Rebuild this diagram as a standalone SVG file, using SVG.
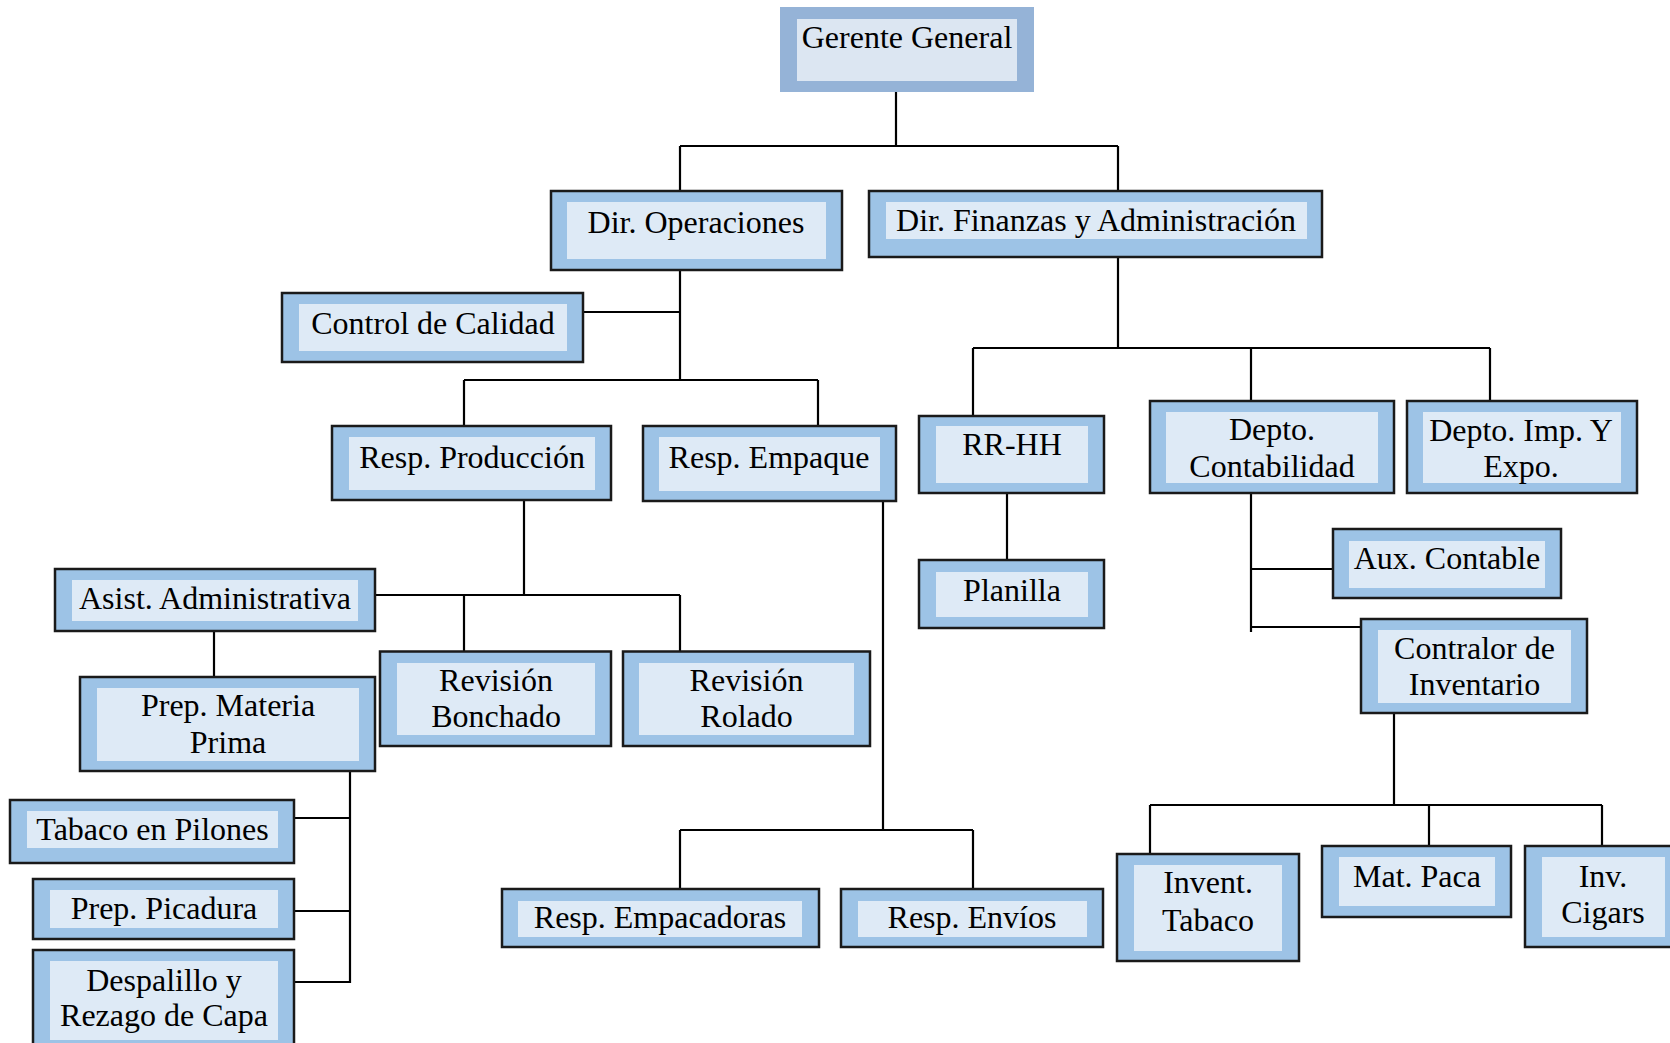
<svg xmlns="http://www.w3.org/2000/svg" width="1670" height="1043" viewBox="0 0 1670 1043">
<style>
.o{fill:#9DC3E6;stroke:#1a1a1a;stroke-width:2.5}
.i{fill:#DEEAF6}
.go{fill:#95B3D7}
.gi{fill:#DCE6F2}
text{font-family:"Liberation Serif","Times New Roman",serif;font-size:32px;fill:#000;text-anchor:middle}
.c{fill:none;stroke:#000;stroke-width:2.2}
</style>
<rect width="1670" height="1043" fill="#fff"/>
<g id="connectors" class="c">
<path d="M896,92V146M680,146H1118M680,146V191M1118,146V191"/>
<path d="M680,270V380M583,312H680M464,380H818M464,380V426M818,380V426"/>
<path d="M1118,257V348M973,348H1490M973,348V416M1251,348V401M1490,348V401"/>
<path d="M1007,491V560"/>
<path d="M1251,493V632M1251,569H1333M1251,627H1361"/>
<path d="M1394,713V805M1150,805H1602M1150,805V854M1429,805V846M1602,805V846"/>
<path d="M524,500V595M375,595H680M464,595V651M680,595V651"/>
<path d="M214,631V677"/>
<path d="M350,771V983M294,818H350M294,911H350M294,982H350"/>
<path d="M883,501V830M680,830H973M680,830V889M973,830V889"/>
</g>
<g id="gerente-general"><rect class="go" x="780" y="7" width="254" height="85"/><rect class="gi" x="797" y="19" width="220" height="62"/><text x="907" y="48">Gerente General</text></g>
<g id="dir-operaciones"><rect class="o" x="551" y="191" width="291" height="79"/><rect class="i" x="567" y="202" width="259" height="57"/><text x="696" y="233">Dir. Operaciones</text></g>
<g id="dir-finanzas"><rect class="o" x="869" y="191" width="453" height="66"/><rect class="i" x="886" y="202" width="421" height="37"/><text x="1096" y="231">Dir. Finanzas y Administración</text></g>
<g id="control-calidad"><rect class="o" x="282" y="293" width="301" height="69"/><rect class="i" x="299" y="304" width="268" height="47"/><text x="433" y="334">Control de Calidad</text></g>
<g id="resp-produccion"><rect class="o" x="332" y="426" width="279" height="74"/><rect class="i" x="349" y="437" width="246" height="53"/><text x="472" y="468">Resp. Producción</text></g>
<g id="resp-empaque"><rect class="o" x="643" y="426" width="253" height="75"/><rect class="i" x="659" y="437" width="221" height="54"/><text x="769" y="468">Resp. Empaque</text></g>
<g id="rr-hh"><rect class="o" x="919" y="416" width="185" height="77"/><rect class="i" x="936" y="426" width="152" height="57"/><text x="1012" y="455">RR-HH</text></g>
<g id="depto-contabilidad"><rect class="o" x="1150" y="401" width="244" height="92"/><rect class="i" x="1166" y="412" width="212" height="71"/><text x="1272" y="440">Depto.</text><text x="1272" y="477">Contabilidad</text></g>
<g id="depto-imp-expo"><rect class="o" x="1407" y="401" width="230" height="92"/><rect class="i" x="1423" y="412" width="198" height="71"/><text x="1521" y="441">Depto. Imp. Y</text><text x="1521" y="477">Expo.</text></g>
<g id="asist-administrativa"><rect class="o" x="55" y="569" width="320" height="62"/><rect class="i" x="72" y="580" width="286" height="41"/><text x="215" y="609">Asist. Administrativa</text></g>
<g id="prep-materia-prima"><rect class="o" x="80" y="677" width="295" height="94"/><rect class="i" x="97" y="688" width="262" height="73"/><text x="228" y="716">Prep. Materia</text><text x="228" y="753">Prima</text></g>
<g id="revision-bonchado"><rect class="o" x="380" y="651.5" width="231" height="94.5"/><rect class="i" x="397" y="663" width="198" height="72"/><text x="496" y="691">Revisión</text><text x="496" y="727">Bonchado</text></g>
<g id="revision-rolado"><rect class="o" x="623" y="651.5" width="247" height="94.5"/><rect class="i" x="639" y="663" width="215" height="72"/><text x="746.5" y="691">Revisión</text><text x="746.5" y="727">Rolado</text></g>
<g id="planilla"><rect class="o" x="919" y="560" width="185" height="68"/><rect class="i" x="936" y="572" width="152" height="45"/><text x="1012" y="601">Planilla</text></g>
<g id="aux-contable"><rect class="o" x="1333" y="529" width="228" height="69"/><rect class="i" x="1349" y="541" width="196" height="47"/><text x="1447" y="569">Aux. Contable</text></g>
<g id="contralor-inventario"><rect class="o" x="1361" y="619" width="226" height="94"/><rect class="i" x="1378" y="630" width="193" height="73"/><text x="1474.5" y="659">Contralor de</text><text x="1474.5" y="695">Inventario</text></g>
<g id="tabaco-pilones"><rect class="o" x="10" y="800" width="284" height="63"/><rect class="i" x="27" y="811" width="251" height="37"/><text x="152.5" y="840">Tabaco en Pilones</text></g>
<g id="prep-picadura"><rect class="o" x="33" y="879" width="261" height="60"/><rect class="i" x="50" y="890" width="228" height="38"/><text x="164" y="919">Prep. Picadura</text></g>
<g id="despalillo"><rect class="o" x="33" y="950" width="261" height="100"/><rect class="i" x="50" y="961" width="228" height="79"/><text x="164" y="991">Despalillo y</text><text x="164" y="1026">Rezago de Capa</text></g>
<g id="resp-empacadoras"><rect class="o" x="502" y="889" width="317" height="58"/><rect class="i" x="518" y="901" width="284" height="36"/><text x="660" y="928">Resp. Empacadoras</text></g>
<g id="resp-envios"><rect class="o" x="841" y="889" width="262" height="58"/><rect class="i" x="858" y="901" width="229" height="36"/><text x="972" y="928">Resp. Envíos</text></g>
<g id="invent-tabaco"><rect class="o" x="1117" y="854" width="182" height="107"/><rect class="i" x="1134" y="865" width="148" height="86"/><text x="1208" y="893">Invent.</text><text x="1208" y="931">Tabaco</text></g>
<g id="mat-paca"><rect class="o" x="1322" y="846" width="189" height="71"/><rect class="i" x="1339" y="857" width="156" height="49"/><text x="1417" y="887">Mat. Paca</text></g>
<g id="inv-cigars"><rect class="o" x="1525" y="846" width="150" height="101"/><rect class="i" x="1542" y="857" width="123" height="80"/><text x="1603" y="887">Inv.</text><text x="1603" y="923">Cigars</text></g>
</svg>
